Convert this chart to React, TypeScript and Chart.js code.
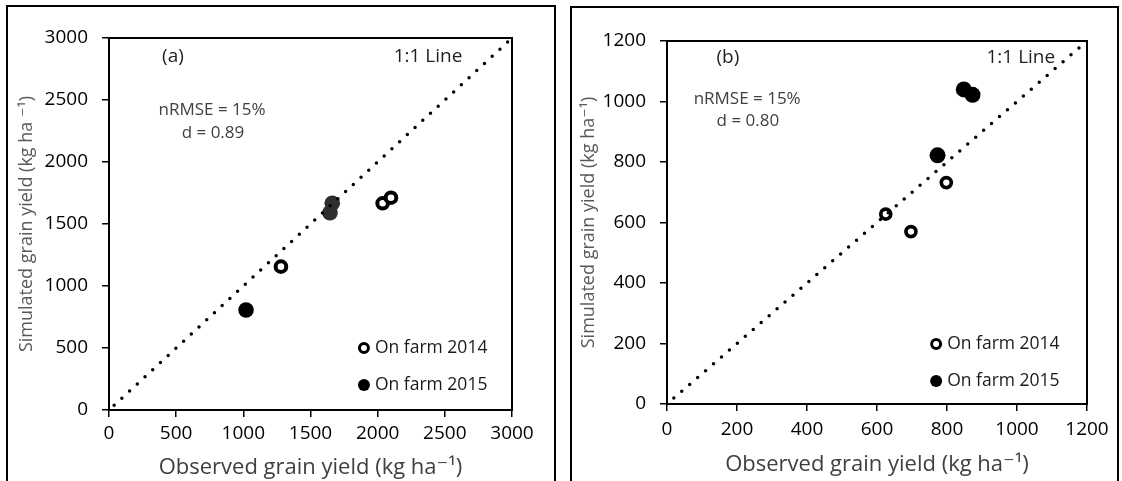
import React, { useEffect, useRef } from "react";
import { Chart, registerables } from "chart.js";

Chart.register(...registerables);

const FONT = "'Open Sans', 'DejaVu Sans', sans-serif";

// ---------- Data: panel (a) ----------
const obs2014A = [1280, 2037, 2099];
const sim2014A = [1156, 1667, 1712];
const obs2015A = [1020, 1645, 1662];
const sim2015A = [806, 1591, 1667];
const axisMaxA = 3000;
const axisStepA = 500;

// ---------- Data: panel (b) ----------
const obs2014B = [625, 697, 798];
const sim2014B = [628, 570, 732];
const obs2015B = [773, 848, 873];
const sim2015B = [822, 1040, 1022];
const axisMaxB = 1200;
const axisStepB = 200;

const seriesLabels = ["On farm 2014", "On farm 2015"];
const xTitle = "Observed grain yield (kg ha\u207B\u00B9)";
const yTitleA = "Simulated grain yield (kg ha \u207B\u00B9)";
const yTitleB = "Simulated grain yield (kg ha\u207B\u00B9)";

type Note = { text: string; x: number; y: number; size: number; color: string };

const notesA: Note[] = [
  { text: "(a)", x: 476, y: 2847, size: 19, color: "#1f1f1f" },
  { text: "1:1 Line", x: 2375, y: 2847, size: 19, color: "#1f1f1f" },
  { text: "nRMSE = 15%", x: 767, y: 2419, size: 17, color: "#404040" },
  { text: "d = 0.89", x: 774, y: 2234, size: 17, color: "#404040" },
];
const notesB: Note[] = [
  { text: "(b)", x: 174, y: 1144, size: 19, color: "#1f1f1f" },
  { text: "1:1 Line", x: 1011, y: 1144, size: 19, color: "#1f1f1f" },
  { text: "nRMSE = 15%", x: 229, y: 1008, size: 17, color: "#404040" },
  { text: "d = 0.80", x: 231, y: 936, size: 17, color: "#404040" },
];

type Panel = {
  obs14: number[];
  sim14: number[];
  obs15: number[];
  sim15: number[];
  max: number;
  step: number;
  yTitle: string;
  notes: Note[];
  legendX: number;
  legendY: number[];
  area: { left: number; top: number; right: number; bottom: number };
  yTitlePad: number;
  xTitlePad: number;
  xTickPad: number;
  open: { r: number; bw: number };
  filled: { r: number };
  filledColors: string[];
  dashOffset: number;
};

const W = 561;
const H = 481;

const panelA: Panel = {
  obs14: obs2014A,
  sim14: sim2014A,
  obs15: obs2015A,
  sim15: sim2015A,
  max: axisMaxA,
  step: axisStepA,
  yTitle: yTitleA,
  notes: notesA,
  legendX: 1898,
  legendY: [500, 202],
  area: { left: 109, top: 38, right: 512, bottom: 410 },
  yTitlePad: 18,
  xTitlePad: 2,
  xTickPad: 5,
  open: { r: 5.3, bw: 4 },
  filled: { r: 7.8 },
  filledColors: ["#000000", "#2e2e2e", "#2e2e2e"],
  dashOffset: 3.5,
};

const panelB: Panel = {
  obs14: obs2014B,
  sim14: sim2014B,
  obs15: obs2015B,
  sim15: sim2015B,
  max: axisMaxB,
  step: axisStepB,
  yTitle: yTitleB,
  notes: notesB,
  legendX: 769,
  legendY: [198, 76],
  area: { left: 106, top: 41, right: 526, bottom: 404 },
  yTitlePad: 19,
  xTitlePad: 5,
  xTickPad: 7,
  open: { r: 5, bw: 3.7 },
  filled: { r: 8 },
  filledColors: ["#000000", "#000000", "#000000"],
  dashOffset: 1.5,
};

const plain = (v: any) => String(v);

function PanelChart({ p, left }: { p: Panel; left: number }) {
  const ref = useRef<HTMLCanvasElement | null>(null);
  useEffect(() => {
    if (!ref.current) return;
    const decor = {
      id: "decor",
      afterDraw(chart: any) {
        const { ctx, chartArea: a, scales } = chart;
        const xs = scales.x;
        const ys = scales.y;
        ctx.save();
        ctx.strokeStyle = "#000";
        ctx.lineWidth = 2;
        ctx.strokeRect(a.left, a.top, a.right - a.left, a.bottom - a.top);
        ctx.textAlign = "center";
        ctx.textBaseline = "middle";
        for (const n of p.notes) {
          ctx.font = `${n.size}px ${FONT}`;
          ctx.fillStyle = n.color;
          ctx.fillText(n.text, xs.getPixelForValue(n.x), ys.getPixelForValue(n.y));
        }
        // legend
        const lx = xs.getPixelForValue(p.legendX);
        seriesLabels.forEach((label, i) => {
          const ly = ys.getPixelForValue(p.legendY[i]);
          ctx.beginPath();
          if (i === 0) {
            ctx.arc(lx, ly, 4.5, 0, Math.PI * 2);
            ctx.fillStyle = "#fff";
            ctx.fill();
            ctx.lineWidth = 3;
            ctx.strokeStyle = "#000";
            ctx.stroke();
          } else {
            ctx.arc(lx, ly, 6, 0, Math.PI * 2);
            ctx.fillStyle = "#000";
            ctx.fill();
          }
          ctx.font = `17.5px ${FONT}`;
          ctx.fillStyle = "#1a1a1a";
          ctx.textAlign = "left";
          ctx.fillText(label, lx + 11, ly);
        });
        ctx.restore();
      },
    };

    const chart = new Chart(ref.current, {
      type: "scatter",
      data: {
        datasets: [
          {
            label: "1:1 Line",
            data: [
              { x: 0, y: 0 },
              { x: p.max, y: p.max },
            ],
            showLine: true,
            borderColor: "#000",
            borderWidth: 3.5,
            borderDash: [0, 10.5],
            borderDashOffset: p.dashOffset,
            borderCapStyle: "round",
            pointRadius: 0,
            fill: false,
          } as any,
          {
            label: seriesLabels[1],
            data: p.obs15.map((x, i) => ({ x, y: p.sim15[i] })),
            pointRadius: p.filled.r,
            pointBackgroundColor: p.filledColors,
            pointBorderColor: p.filledColors,
            pointBorderWidth: 0,
          },
          {
            label: seriesLabels[0],
            data: p.obs14.map((x, i) => ({ x, y: p.sim14[i] })),
            pointRadius: p.open.r,
            pointBackgroundColor: "#fff",
            pointBorderColor: "#000",
            pointBorderWidth: p.open.bw,
          },
        ],
      },
      options: {
        responsive: false,
        animation: false,
        devicePixelRatio: 1,
        events: [],
        layout: {
          padding: {
            left: 0,
            top: p.area.top,
            right: W - p.area.right,
            bottom: 0,
          },
        },
        plugins: {
          legend: { display: false },
          tooltip: { enabled: false },
        },
        scales: {
          x: {
            type: "linear",
            min: 0,
            max: p.max,
            border: { display: false },
            grid: {
              drawOnChartArea: false,
              drawTicks: true,
              tickLength: 7,
              color: "#000",
              lineWidth: 1.5,
            },
            ticks: {
              stepSize: p.step,
              color: "#000",
              padding: p.xTickPad,
              maxRotation: 0,
              callback: plain,
              font: { family: FONT, size: 19 },
            },
            title: {
              display: true,
              text: xTitle,
              color: "#404040",
              font: { family: FONT, size: 22, lineHeight: 1 },
              padding: { top: 0, bottom: p.xTitlePad },
            },
            afterFit: (s: any) => {
              s.height = H - p.area.bottom;
            },
          },
          y: {
            type: "linear",
            min: 0,
            max: p.max,
            border: { display: false },
            grid: {
              drawOnChartArea: false,
              drawTicks: true,
              tickLength: 7,
              color: "#000",
              lineWidth: 1.5,
            },
            ticks: {
              stepSize: p.step,
              color: "#000",
              padding: 14,
              callback: plain,
              font: { family: FONT, size: 19 },
            },
            title: {
              display: true,
              text: p.yTitle,
              color: "#595959",
              font: { family: FONT, size: 18, lineHeight: 1 },
              padding: { top: p.yTitlePad, bottom: 0 },
            },
            afterFit: (s: any) => {
              s.width = p.area.left;
            },
          },
        },
      } as any,
      plugins: [decor],
    });
    return () => chart.destroy();
  }, [p]);
  return (
    <canvas
      ref={ref}
      width={W}
      height={H}
      style={{ position: "absolute", left, top: 0, width: W, height: H }}
    />
  );
}

export default function App() {
  return (
    <div
      style={{
        position: "fixed",
        left: 0,
        top: 0,
        width: 1122,
        height: 481,
        overflow: "hidden",
        background: "#fff",
      }}
    >
      <PanelChart p={panelA} left={0} />
      <PanelChart p={panelB} left={561} />
      <div
        style={{
          position: "absolute",
          left: 6,
          top: 5,
          width: 550,
          height: 520,
          border: "2px solid #000",
          boxSizing: "border-box",
          pointerEvents: "none",
        }}
      />
      <div
        style={{
          position: "absolute",
          left: 570,
          top: 6,
          width: 549,
          height: 520,
          border: "2px solid #000",
          boxSizing: "border-box",
          pointerEvents: "none",
        }}
      />
    </div>
  );
}
